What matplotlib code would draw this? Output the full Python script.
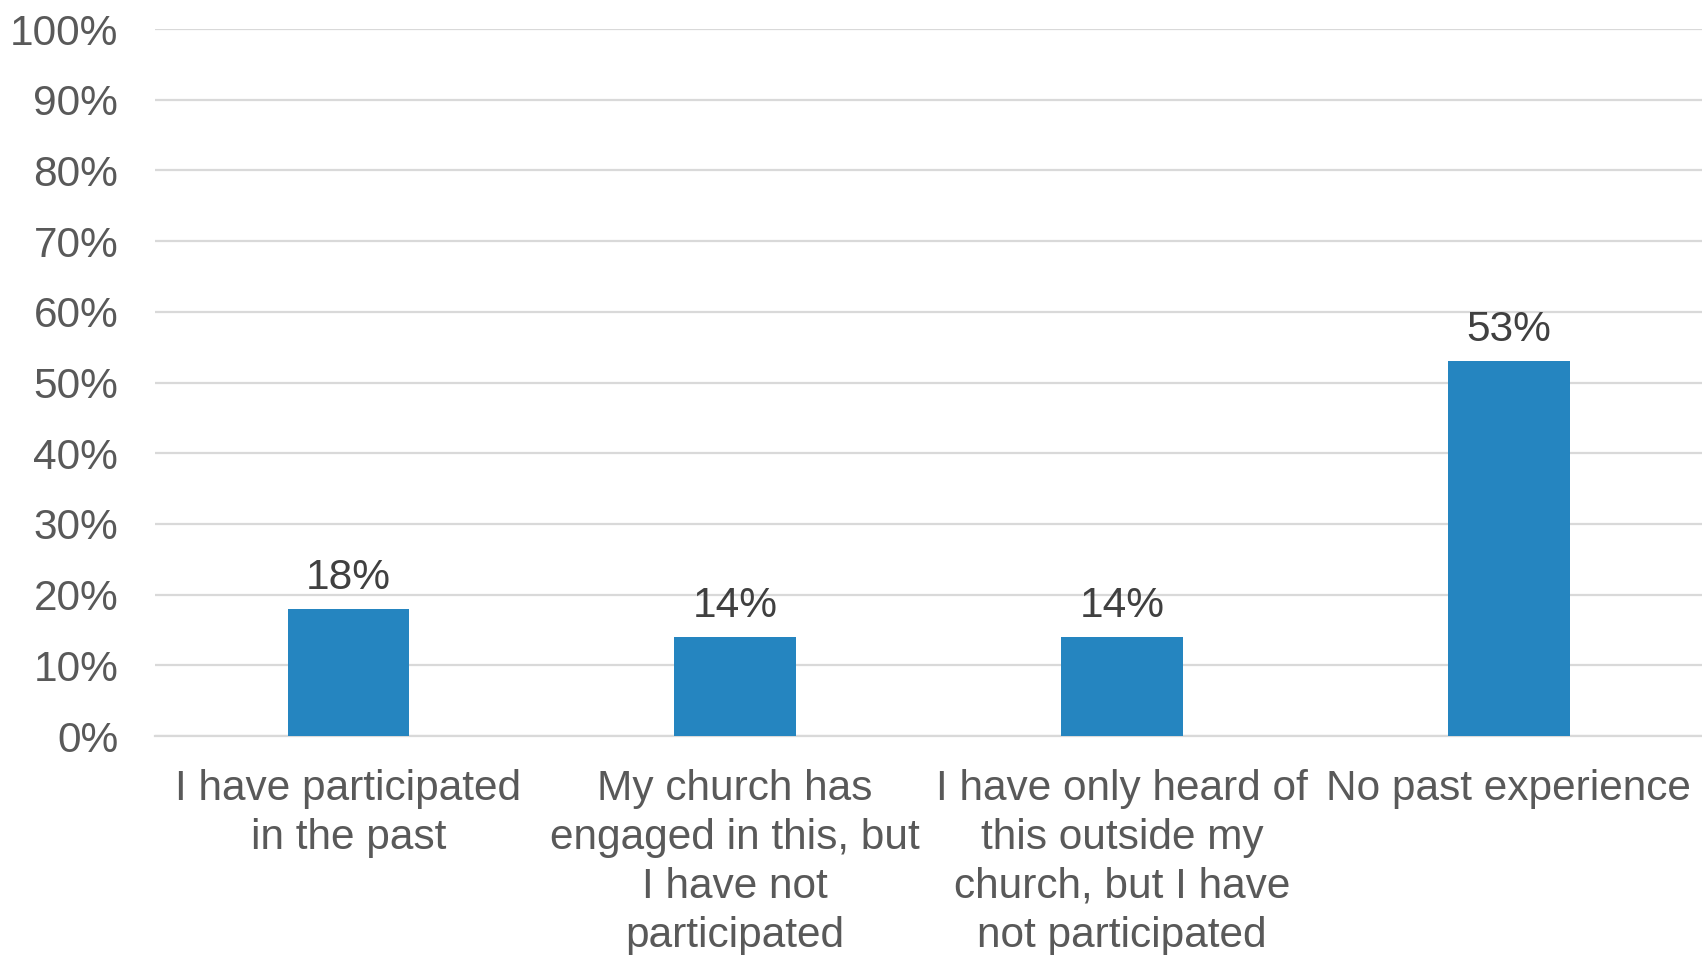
import matplotlib.pyplot as plt
from matplotlib.ticker import PercentFormatter

plt.rcParams['font.family'] = ['Liberation Sans', 'DejaVu Sans']

# data
categories = [
    "I have participated\nin the past",
    "My church has\nengaged in this, but\nI have not\nparticipated",
    "I have only heard of\nthis outside my\nchurch, but I have\nnot participated",
    "No past experience",
]
values = [18, 14, 14, 53]
labels = ["18%", "14%", "14%", "53%"]

bar_color = "#2585C0"
text_gray = "#595959"
fs = 30.5

fig = plt.figure(figsize=(17.02, 9.55), dpi=100)
ax = fig.add_axes([0.0911, 0.2293, 0.9089, 0.7403])

x = range(len(categories))
bars = ax.bar(x, values, width=0.315, color=bar_color, zorder=3)

for b, lab in zip(bars, labels):
    ax.annotate(lab, (b.get_x() + b.get_width() / 2, b.get_height()),
                xytext=(0, 8), textcoords="offset points",
                ha="center", va="bottom", fontsize=fs, color="#404040")

ax.set_xlim(-0.5, len(categories) - 0.5)
ax.set_ylim(0, 100)
ax.set_yticks(range(0, 101, 10))
ax.yaxis.set_major_formatter(PercentFormatter(decimals=0))
ax.set_xticks(list(x))
ax.set_xticklabels(categories, fontsize=fs, color=text_gray, linespacing=1.29)

ax.tick_params(axis="y", length=0, pad=26.5, labelsize=fs, labelcolor=text_gray)
ax.tick_params(axis="x", length=0, pad=23.5)

ax.grid(axis="y", color="#D9D9D9", linewidth=1.6, zorder=0)
for s in ["top", "right", "left"]:
    ax.spines[s].set_visible(False)
ax.spines["bottom"].set_color("#D9D9D9")
ax.spines["bottom"].set_linewidth(1.6)

fig.savefig("out.png", dpi=100)
